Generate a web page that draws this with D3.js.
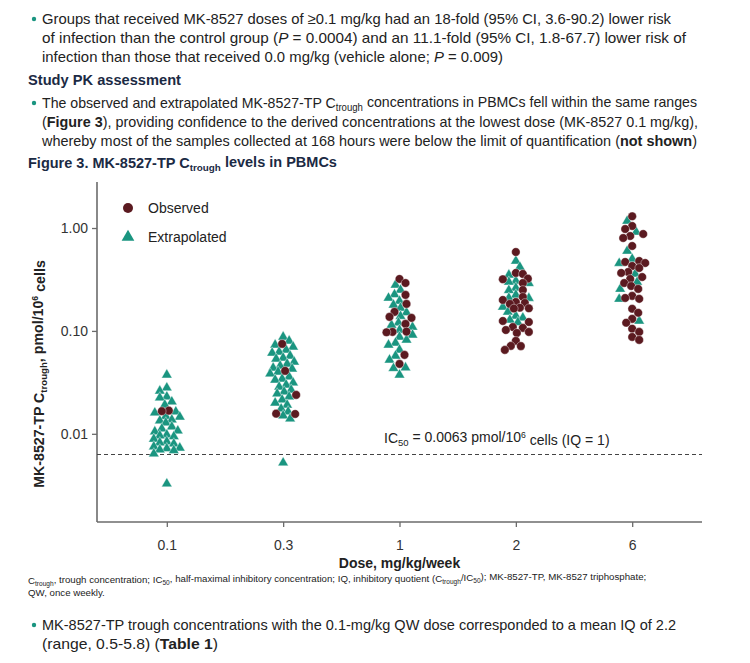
<!DOCTYPE html>
<html><head><meta charset="utf-8">
<script src="https://cdn.jsdelivr.net/npm/d3@7"></script>
<style>
body{margin:0;background:#fff;}
svg{display:block;}
</style></head>
<body>
<svg id="c" width="750" height="663"></svg>
<script>
// ---- data ----
const doses = ["0.1","0.3","1","2","6"];
const yTicks = [0.01, 0.1, 1];
const yTickLabels = ["0.01","0.10","1.00"];
const ic50 = 0.0063;

const observed_0_1 = [0.0168, 0.0166];
const extrapolated_0_1 = [0.0374,0.0280,0.0261,0.0229,0.0224,0.0205,0.0191,0.0164,0.0160,0.0146,0.0148,0.0137,0.0134,0.0128,0.0117,0.0112,0.0107,0.0105,0.0098,0.0096,0.0094,0.0089,0.0084,0.0082,0.0080,0.0075,0.0073,0.0072,0.0070,0.0069,0.0064,0.00327];

const observed_0_3 = [0.0748,0.0409,0.0239,0.0156,0.0157];
const extrapolated_0_3 = [0.0874,0.0800,0.0731,0.0700,0.0654,0.0625,0.0611,0.0572,0.0547,0.0535,0.0500,0.0478,0.0457,0.0437,0.0428,0.0400,0.0383,0.0358,0.0342,0.0334,0.0313,0.0299,0.0286,0.0267,0.0256,0.0245,0.0229,0.0214,0.0200,0.0191,0.0175,0.0164,0.0150,0.0140,0.00523];

const observed_1 = [0.320,0.292,0.224,0.183,0.153,0.137,0.134,0.117,0.0978,0.0985,0.0970,0.0585,0.0478];
const extrapolated_1 = [0.280,0.250,0.226,0.209,0.195,0.179,0.167,0.151,0.139,0.120,0.114,0.109,0.102,0.0915,0.0874,0.0818,0.0765,0.0731,0.0654,0.0572,0.0523,0.0440,0.0433,0.0374];

const observed_2 = [0.585,0.366,0.358,0.322,0.318,0.292,0.250,0.214,0.200,0.191,0.187,0.183,0.168,0.166,0.165,0.125,0.122,0.109,0.107,0.102,0.0978,0.0956,0.0800,0.0715,0.0712,0.0654];
const extrapolated_2 = [0.478,0.418,0.350,0.306,0.299,0.290,0.262,0.248,0.224,0.209,0.208,0.171,0.153,0.140,0.134,0.128,0.121];

const observed_6 = [1.30,1.046,0.978,0.875,0.836,0.800,0.669,0.478,0.468,0.457,0.428,0.409,0.374,0.366,0.334,0.320,0.292,0.273,0.256,0.219,0.209,0.205,0.164,0.150,0.131,0.120,0.105,0.0978,0.0874,0.0818];
const extrapolated_6 = [1.17,0.915,0.598,0.500,0.455,0.358,0.299,0.255,0.204,0.125];

const observedByDose = [observed_0_1, observed_0_3, observed_1, observed_2, observed_6];
const extrapolatedByDose = [extrapolated_0_1, extrapolated_0_3, extrapolated_1, extrapolated_2, extrapolated_6];

// ---- drawing ----
(function(){
const svg = d3.select("#c");
const teal = "#1a9580", maroon = "#5b1a20", navy = "#1b2a44", txt = "#222";
const sans = "'Liberation Sans',Arial,sans-serif";

function rich(sel, parts){
  parts.forEach(p=>{
    const t = sel.append("tspan").text(p.t);
    if(p.b) t.attr("font-weight","bold");
    if(p.i) t.attr("font-style","italic");
    if(p.sub){ t.attr("font-size","0.68em").attr("dy", p.dy||"0.3em"); }
    if(p.sup){ t.attr("font-size","0.62em").attr("dy", p.dy||"-0.5em"); }
    if(p.back) t.attr("dy", p.back);
  });
}

const bodyLines = [
  {y:24, end:671, bullet:true, parts:[{t:"Groups that received MK-8527 doses of ≥0.1 mg/kg had an 18-fold (95% CI, 3.6-90.2) lower risk"}]},
  {y:43, end:686, parts:[{t:"of infection than the control group ("},{t:"P",i:true},{t:" = 0.0004) and an 11.1-fold (95% CI, 1.8-67.7) lower risk of"}]},
  {y:62, end:503, parts:[{t:"infection than those that received 0.0 mg/kg (vehicle alone; "},{t:"P",i:true},{t:" = 0.009)"}]},
  {y:108, end:697, bullet:true, parts:[{t:"The observed and extrapolated MK-8527-TP C"},{t:"trough",sub:true},{t:" concentrations in PBMCs fell within the same ranges",back:"-0.3em"}]},
  {y:127, end:698, parts:[{t:"("},{t:"Figure 3",b:true},{t:"), providing confidence to the derived concentrations at the lowest dose (MK-8527 0.1 mg/kg),"}]},
  {y:146, end:697, parts:[{t:"whereby most of the samples collected at 168 hours were below the limit of quantification ("},{t:"not shown",b:true},{t:")"}]},
  {y:630, end:676, bullet:true, parts:[{t:"MK-8527-TP trough concentrations with the 0.1-mg/kg QW dose corresponded to a mean IQ of 2.2"}]},
  {y:649, end:218, parts:[{t:"(range, 0.5-5.8) ("},{t:"Table 1",b:true},{t:")"}]}
];
bodyLines.forEach(l=>{
  if(l.bullet) svg.append("circle").attr("cx",34).attr("cy",l.y-5).attr("r",2.2).attr("fill",teal);
  const t = svg.append("text").attr("x",42).attr("y",l.y).attr("font-family",sans).attr("font-size",15).attr("fill",txt)
    .attr("textLength", l.end-42).attr("lengthAdjust","spacingAndGlyphs");
  rich(t,l.parts);
});
svg.append("text").attr("x",28).attr("y",85).attr("font-family",sans).attr("font-size",15.5).attr("font-weight","bold").attr("fill",navy)
  .attr("textLength",153).attr("lengthAdjust","spacingAndGlyphs").text("Study PK assessment");
{
  const t = svg.append("text").attr("x",28).attr("y",168).attr("font-family",sans).attr("font-size",14.5).attr("font-weight","bold").attr("fill",navy);
  rich(t,[{t:"Figure 3. MK-8527-TP C"},{t:"trough",sub:true},{t:" levels in PBMCs",back:"-0.3em"}]);
}
// footnote
{
  const t = svg.append("text").attr("x",28).attr("y",584).attr("font-family",sans).attr("font-size",9.7).attr("fill",txt);
  rich(t,[{t:"C"},{t:"trough",sub:true},{t:", trough concentration; IC",back:"-0.3em"},{t:"50",sub:true},{t:", half-maximal inhibitory concentration; IQ, inhibitory quotient (C",back:"-0.3em"},{t:"trough",sub:true},{t:"/IC",back:"-0.3em"},{t:"50",sub:true},{t:"); MK-8527-TP, MK-8527 triphosphate;",back:"-0.3em"}]);
  svg.append("text").attr("x",28).attr("y",596).attr("font-family",sans).attr("font-size",9.7).attr("fill",txt).text("QW, once weekly.");
}

// chart
const pL = 97, pR = 702, pT = 182, pB = 522;
const x = d3.scalePoint().domain(doses).range([pL, pR]).padding(0.6);
const y = d3.scaleLog().domain([0.00139, 2.8]).range([pB, pT]);

const axisColor = "#6b6b6b";
const gx = svg.append("g").attr("transform",`translate(0,${pB})`)
  .call(d3.axisBottom(x).tickSize(5).tickSizeOuter(0).tickPadding(13));
gx.select(".domain").attr("stroke",axisColor).attr("stroke-width",1.6).attr("d",`M${pL},0H${pR}`);
gx.selectAll(".tick line").attr("stroke",axisColor).attr("stroke-width",1.3);
gx.selectAll(".tick text").attr("font-family",sans).attr("font-size",14).attr("fill","#333");

const gy = svg.append("g").attr("transform",`translate(${pL},0)`)
  .call(d3.axisLeft(y).tickValues(yTicks).tickFormat((d,i)=>yTickLabels[i]).tickSize(5).tickSizeOuter(0).tickPadding(4));
gy.select(".domain").attr("stroke",axisColor).attr("stroke-width",1.6).attr("d",`M0,${pT}V${pB}`);
gy.selectAll(".tick line").attr("stroke",axisColor).attr("stroke-width",1.3);
gy.selectAll(".tick text").attr("font-family",sans).attr("font-size",14).attr("fill","#333");

svg.append("text").attr("x",(pL+pR)/2).attr("y",568).attr("text-anchor","middle")
  .attr("font-family",sans).attr("font-size",14).attr("font-weight","bold").attr("fill","#222").text("Dose, mg/kg/week");
{
  const t = svg.append("text").attr("transform","translate(44,374) rotate(-90)").attr("text-anchor","middle")
    .attr("font-family",sans).attr("font-size",14.2).attr("font-weight","bold").attr("fill","#222");
  rich(t,[{t:"MK-8527-TP C"},{t:"trough",sub:true},{t:", pmol/10",back:"-0.3em"},{t:"6",sup:true},{t:" cells",back:"0.5em"}]);
}

// IC50 line
svg.append("line").attr("x1",pL).attr("x2",pR).attr("y1",y(ic50)).attr("y2",y(ic50))
  .attr("stroke","#444").attr("stroke-width",1.1).attr("stroke-dasharray","4,3");
{
  const t = svg.append("text").attr("x",384).attr("y",y(ic50)-11).attr("font-family",sans).attr("font-size",14).attr("fill","#222");
  rich(t,[{t:"IC"},{t:"50",sub:true},{t:" = 0.0063 pmol/10",back:"-0.3em"},{t:"6",sup:true},{t:" cells (IQ = 1)",back:"0.5em"}]);
}

// dodge layout (deterministic beeswarm-like offsets computed from values)
const pts = [];
doses.forEach((d,gi)=>{
  const g = [];
  extrapolatedByDose[gi].forEach(v=>g.push({dose:d, v, type:"ext"}));
  observedByDose[gi].forEach(v=>g.push({dose:d, v, type:"obs"}));
  const placed = [];
  const order = g.map((p,i)=>i).sort((a,b)=>g[b].v-g[a].v);
  order.forEach(i=>{
    const p = g[i]; const py = y(p.v);
    let best = 0, bestD = -1;
    const cands = [0];
    for(let k=1;k<=13;k++){ cands.push((i%2? k : -k)); cands.push((i%2? -k : k)); }
    for(const c of cands){
      let md = Infinity;
      placed.forEach(q=>{ const dd = Math.hypot(q.dx-c, q.py-py); if(dd<md) md=dd; });
      if(md>=6.8){ best=c; bestD=md; break; }
      if(md>bestD){ bestD=md; best=c; }
    }
    p.dx = best; p.py = py; placed.push(p);
  });
  pts.push(...g);
});

const tri = d3.symbol().type(d3.symbolTriangle).size(48);
svg.append("g").selectAll("path").data(pts.filter(p=>p.type==="ext")).join("path")
  .attr("d",tri).attr("transform",p=>`translate(${x(p.dose)+p.dx},${y(p.v)})`)
  .attr("fill",teal).attr("stroke","#fff").attr("stroke-width",0.4);
svg.append("g").selectAll("circle").data(pts.filter(p=>p.type==="obs")).join("circle")
  .attr("cx",p=>x(p.dose)+p.dx).attr("cy",p=>y(p.v)).attr("r",4.3)
  .attr("fill",maroon).attr("stroke","#fff").attr("stroke-width",0.4);

// legend
svg.append("circle").attr("cx",128).attr("cy",208).attr("r",5).attr("fill",maroon);
svg.append("path").attr("d",d3.symbol().type(d3.symbolTriangle).size(70)).attr("transform","translate(128,237)").attr("fill",teal);
svg.append("text").attr("x",148).attr("y",213).attr("font-family",sans).attr("font-size",14).attr("fill","#222").text("Observed");
svg.append("text").attr("x",148).attr("y",242).attr("font-family",sans).attr("font-size",14).attr("fill","#222").text("Extrapolated");
})();
</script>
</body></html>
